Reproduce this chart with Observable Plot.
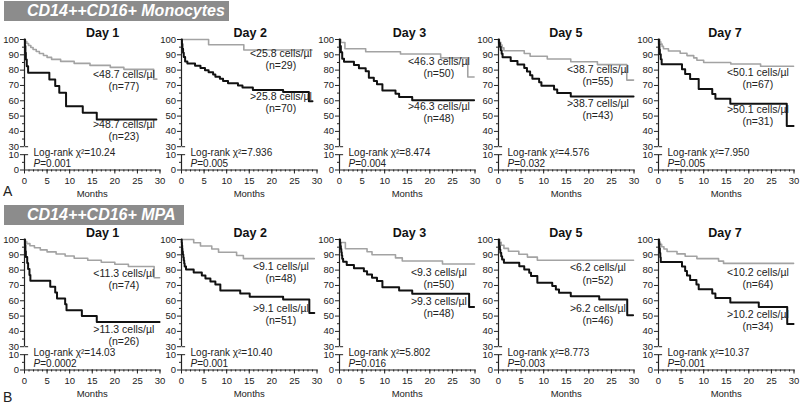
<!DOCTYPE html>
<html><head><meta charset="utf-8">
<script src="https://cdn.jsdelivr.net/npm/d3@7"></script>
<script src="https://cdn.jsdelivr.net/npm/@observablehq/plot@0.6"></script>
<style>
body{margin:0;background:#fff;font-family:"Liberation Sans",Arial,sans-serif;}
#wrap{position:relative;width:800px;height:404px;overflow:hidden;background:#fff;}
.hdr{position:absolute;left:4px;height:20px;background:#8c8c8c;color:#fff;font:italic bold 16px "Liberation Sans",Arial,sans-serif;line-height:20px;padding-left:23px;box-sizing:border-box;white-space:nowrap;}
.let{position:absolute;left:3px;font:14px "Liberation Sans",Arial,sans-serif;color:#222;line-height:14px;}
</style></head><body><div id="wrap"></div>
<script>
// ---------- data ----------
const days = ["Day 1", "Day 2", "Day 3", "Day 5", "Day 7"];
const rowTitles = ["CD14++CD16+ Monocytes", "CD14++CD16+ MPA"];
const rowLetters = ["A", "B"];
const monthTicks = [0, 5, 10, 15, 20, 25, 30];
const survTicks = [100, 90, 80, 70, 60, 50, 40, 30, 10, 0];
const survMinor = [95, 85, 75, 65, 55, 45, 35, 5];

// Kaplan–Meier steps [month, % event-free]; low group (gray) and high group (black)
const monoLow = [
  [[0,100],[0.2,98.7],[0.5,97.4],[0.9,96.1],[1.4,94.8],[1.9,93.5],[2.6,92.2],[3.3,90.9],[4.2,89.6],[5,88.3],[6,87],[8,85.7],[11,84.4],[14.5,83.1],[19,81.8],[22,80.5],[28.6,74.1],[29.3,74.1]],
  [[0,100],[6,96.6],[13.8,93.1],[28.9,93.1]],
  [[0,100],[0.3,98],[1.2,94],[5.8,92],[13.5,90.5],[22.4,88],[28.4,75.5],[29.8,75.5]],
  [[0,100],[0.2,98.2],[0.5,96.4],[0.8,94.5],[1.2,92.7],[5.7,90.9],[7,89.1],[10.8,87.3],[16,85.5],[21.9,83.6],[28.4,73.5],[29.9,73.5]],
  [[0,100],[0.3,98.5],[0.5,97],[0.8,95.5],[1.1,94],[2.2,92.5],[4.8,91],[6.3,89.5],[7.8,88],[8.5,86.5],[10,85],[16,84],[22.6,82.5],[29.9,82.5]]
];
const monoHigh = [
  [[0,100],[0.1,95.7],[0.2,91.3],[0.3,87],[0.5,82.6],[0.8,78.3],[5.5,73.9],[6.8,69.6],[7.7,65.2],[9.2,56.5],[12.9,52.2],[16,47.8],[29.2,47.8]],
  [[0,100],[0.1,97],[0.2,94],[0.35,91.4],[0.5,88.6],[0.8,85.7],[1.3,84.3],[3,82.9],[4.2,81.4],[5.2,80],[6,78.6],[7,77.1],[7.5,75.7],[8.5,74.3],[9.2,72.9],[10.3,71.4],[12.5,70],[13.5,68.6],[15.8,67.1],[22.5,65.7],[28.2,59.7],[29,59.7]],
  [[0,100],[0.1,95.8],[0.3,91.7],[0.6,87.5],[1,85.4],[3.2,83.3],[4.3,81.3],[5.8,79.2],[6.5,75],[7.6,72.9],[8.3,70.8],[9.5,66.7],[12.4,64.6],[13.2,62.5],[16.1,60.4],[29.8,60.4]],
  [[0,100],[0.1,97.7],[0.3,95.3],[0.5,93],[0.7,90.7],[0.9,88.4],[2.7,86],[4.2,83.7],[5.7,81.4],[6.3,79.1],[7,76.7],[7.5,74.4],[9,72.1],[9.5,69.8],[12.3,67.4],[13,65.1],[16,62.8],[29.9,62.8]],
  [[0,100],[0.1,96.8],[0.2,93.5],[0.3,90.3],[0.5,87.1],[0.7,83.9],[5.2,80.6],[5.9,77.4],[7,74.2],[8.9,67.7],[11.9,64.5],[12.6,61.3],[15.9,58.1],[28.4,43.5],[29.9,43.5]]
];
const mpaLow = [
  [[0,100],[0.2,98.6],[0.5,97.3],[1.2,95.9],[2.2,94.6],[3.5,93.2],[5,91.9],[7,90.5],[9,89.2],[11,87.8],[14,86.5],[17,85.1],[20,83.8],[23,82.4],[28.7,75],[29.9,75]],
  [[0,100],[2.7,97.9],[4.2,95.8],[6.7,93.8],[8.2,91.7],[12.2,89.6],[13.7,87.5],[29.4,87.5]],
  [[0,100],[0.2,98],[1.3,94],[6.1,92],[7.2,90],[12.4,88],[13.9,86],[22.8,84],[29.9,84]],
  [[0,100],[0.3,98.1],[0.6,96.2],[1.2,94.2],[2.2,92.3],[4.5,90.4],[6.4,88.5],[8.6,86.5],[29.9,86.5]],
  [[0,100],[0.2,98.4],[0.4,96.9],[0.7,95.3],[1.2,93.8],[1.9,92.2],[4.1,90.6],[5.9,89.1],[8.5,87.5],[13.3,85.9],[14.4,84.4],[29.9,84.4]]
];
const mpaHigh = [
  [[0,100],[0.1,96.2],[0.2,92.3],[0.3,88.5],[0.6,84.6],[0.8,80.8],[1.1,76.9],[1.3,73.1],[5.7,69.2],[6.8,65.4],[7.2,61.5],[9,57.7],[9.3,53.8],[12.7,50],[16,46.2],[29.9,46.2]],
  [[0,100],[0.05,98],[0.1,96.1],[0.15,94.1],[0.2,92.2],[0.3,90.2],[0.4,88.2],[0.5,86.3],[0.6,84.3],[0.7,82.4],[1,80.4],[2.7,78.4],[4.5,76.5],[5.3,74.5],[6.4,72.5],[7.5,70.6],[8.6,66.7],[13,64.7],[15.1,62.7],[22.5,60.8],[28.3,52],[29.4,52]],
  [[0,100],[0.1,97.9],[0.2,95.8],[0.3,93.8],[0.4,91.7],[0.5,89.6],[0.6,87.5],[0.8,85.4],[1.6,83.3],[3.2,81.3],[5.4,79.2],[6.1,77.1],[7.2,75],[8.3,72.9],[9.5,68.8],[13.2,66.7],[16.1,64.6],[28.7,56],[29.8,56]],
  [[0,100],[0.1,97.8],[0.2,95.7],[0.3,93.5],[0.4,91.3],[0.6,89.1],[0.8,87],[1.2,84.8],[4.6,82.6],[5.7,80.4],[6.8,78.3],[7.2,76.1],[8.6,71.7],[11.9,69.6],[12.7,67.4],[13.4,65.2],[16,63],[22.3,60.9],[28.5,50.5],[29.8,50.5]],
  [[0,100],[0.1,97.1],[0.2,94.1],[0.3,91.2],[0.4,88.2],[0.5,85.3],[5.2,82.4],[5.9,79.4],[6.3,76.5],[7,73.5],[8.4,70.6],[8.9,67.6],[11.9,64.7],[12.6,61.8],[15.9,58.8],[22.2,55.9],[28.5,44.8],[29.9,44.8]]
];

const monoCut = ["48.7", "25.8", "46.3", "38.7", "50.1"];
const monoNLow = [77, 29, 50, 55, 67];
const monoNHigh = [23, 70, 48, 43, 31];
const monoChi = ["10.24", "7.936", "8.474", "4.576", "7.950"];
const monoP = ["0.001", "0.005", "0.004", "0.032", "0.005"];

const mpaCut = ["11.3", "9.1", "9.3", "6.2", "10.2"];
const mpaNLow = [74, 48, 50, 52, 64];
const mpaNHigh = [26, 51, 48, 46, 34];
const mpaChi = ["14.03", "10.40", "5.802", "8.773", "10.37"];
const mpaP = ["0.0002", "0.001", "0.016", "0.003", "0.001"];

// ---------- layout (positions only) ----------
const panelX0 = [24.3, 181, 339, 497.7, 658.3];
const rowTop = [0, 200.3];
const titleAt = [17.3, 15.2, 15.5, 14.9, 14.7];
const labelLowY = [[76.5, 90.2, 85.2, 79.7, 78], [77.3, 81.9, 78, 80.8, 78]];
const labelHighY = [[43.8, 61.9, 55.7, 57.5, 54], [40.7, 54.6, 59, 54.6, 50.3]];
const labelX = 22;
const BREAK = 14.8; // broken axis: values >= 30 are shifted down by this many units
const brk = v => (v > 20 ? v - BREAK : v);
const unbrk = t => (t > 10.01 ? t + BREAK : t);

const rowsData = [
  {low: monoLow, high: monoHigh, cut: monoCut, nl: monoNLow, nh: monoNHigh, chi: monoChi, p: monoP},
  {low: mpaLow, high: mpaHigh, cut: mpaCut, nl: mpaNLow, nh: mpaNHigh, chi: mpaChi, p: mpaP}
];

const FONT = '"Liberation Sans", Arial, sans-serif';
const wrap = document.getElementById("wrap");

function pts(arr) { return arr.map(([m, v]) => ({m, v})); }

function panel(r, d) {
  const R = rowsData[r];
  const lowText = `<${R.cut[d]} cells/µl\n(n=${R.nl[d]})`;
  const highText = `>${R.cut[d]} cells/µl\n(n=${R.nh[d]})`;
  return Plot.plot({
    width: 170, height: 200,
    marginLeft: 24, marginRight: 10.5, marginTop: 39, marginBottom: 30.5,
    style: {background: "transparent", overflow: "visible", fontFamily: FONT, fontSize: "9.5px", color: "#222"},
    x: {domain: [0, 30], label: null},
    y: {transform: brk, range: [169.5, 39], label: null},
    marks: [
      Plot.ruleX([0], {y1: 30, y2: 100, stroke: "#222", strokeWidth: 1.2}),
      Plot.ruleX([0], {y1: 0, y2: 10, stroke: "#222", strokeWidth: 1.2}),
      Plot.ruleY([0], {x1: 0, x2: 30, stroke: "#222", strokeWidth: 1.2}),
      Plot.link([30, 10], {x1: 0, x2: 0.8, y1: d => d, y2: d => d, stroke: "#222"}),
      Plot.axisY({ticks: survTicks.map(brk), tickFormat: t => String(Math.round(unbrk(t))), tickSize: 4, tickPadding: 1.5, fontSize: 9.5}),
      Plot.axisY({ticks: survMinor.map(brk), tickSize: 2, tickFormat: () => ""}),
      Plot.axisX({ticks: monthTicks, tickSize: 4, tickPadding: 3, fontSize: 9.5}),
      Plot.axisX({ticks: d3.range(0, 31), tickSize: 2, tickFormat: () => ""}),
      Plot.line(pts(R.low[d]), {x: "m", y: "v", curve: "step-after", stroke: "#a3a3a3", strokeWidth: 1.6}),
      Plot.line(pts(R.high[d]), {x: "m", y: "v", curve: "step-after", stroke: "#111", strokeWidth: 2}),
      Plot.text([days[d]], {x: titleAt[d], frameAnchor: "top", dy: -7, fontWeight: "bold", fontSize: 12.5, lineAnchor: "middle", fill: "#111"}),
      Plot.text(["Months"], {frameAnchor: "bottom", dy: 23.5, fontSize: 9.5, lineAnchor: "middle"}),
      Plot.text([lowText], {x: labelX, y: labelLowY[r][d], textAnchor: "middle", lineAnchor: "top", dy: -6, fontSize: 10.5, lineHeight: 1.15, fill: "#222"}),
      Plot.text([highText], {x: labelX, y: labelHighY[r][d], textAnchor: "middle", lineAnchor: "top", dy: -6, fontSize: 10.5, lineHeight: 1.15, fill: "#222"}),
      Plot.text([`Log-rank χ²=${R.chi[d]}`], {x: 2, frameAnchor: "bottom", dy: -17.3, textAnchor: "start", lineAnchor: "middle", fontSize: 10, fill: "#222"}),
      Plot.text(["P"], {x: 2, frameAnchor: "bottom", dy: -6.5, textAnchor: "start", lineAnchor: "middle", fontSize: 10, fontStyle: "italic", fill: "#222"}),
      Plot.text([`=${R.p[d]}`], {x: 2, dx: 6.7, frameAnchor: "bottom", dy: -6.5, textAnchor: "start", lineAnchor: "middle", fontSize: 10, fill: "#222"})
    ]
  });
}

rowTitles.forEach((t, r) => {
  const h = document.createElement("div");
  h.className = "hdr";
  h.textContent = t;
  h.style.top = (r === 0 ? 1 : 205) + "px";
  h.style.width = (r === 0 ? 225 : 180) + "px";
  wrap.appendChild(h);
  const L = document.createElement("div");
  L.className = "let";
  L.textContent = rowLetters[r];
  L.style.top = (r === 0 ? 184 : 390) + "px";
  wrap.appendChild(L);
  days.forEach((_, d) => {
    const svg = panel(r, d);
    svg.style.position = "absolute";
    svg.style.left = (panelX0[d] - 24) + "px";
    svg.style.top = rowTop[r] + "px";
    wrap.appendChild(svg);
  });
});
</script>
</body></html>
